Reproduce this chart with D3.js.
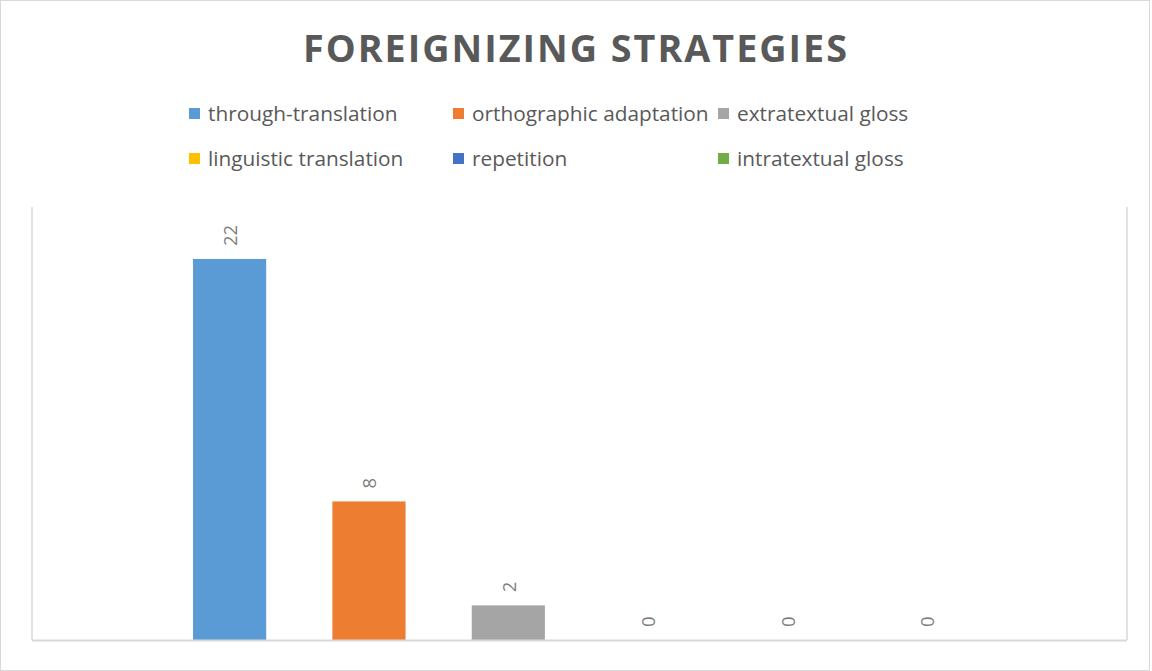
<!DOCTYPE html>
<html><head><meta charset="utf-8">
<script src="https://cdn.jsdelivr.net/npm/d3@7"></script>
<style>body{margin:0;background:#fff}svg{display:block}</style>
</head><body>
<svg id="c" width="1152" height="671"></svg>
<script>
const title = "FOREIGNIZING STRATEGIES";
const series = ["through-translation","orthographic adaptation","extratextual gloss","linguistic translation","repetition","intratextual gloss"];
const values = [22, 8, 2, 0, 0, 0];
const colors = ["#5b9bd5","#ed7d31","#a5a5a5","#ffc000","#4472c4","#70ad47"];
const yMax = 25;

const svg = d3.select("#c");
const W = 1152, H = 671;
const font = "'Open Sans', 'Noto Sans', sans-serif";
const txt = "#595959";

svg.append("rect").attr("x",0.5).attr("y",0.5).attr("width",W-3).attr("height",H-1)
  .attr("fill","#fff").attr("stroke","#d9d9d9");

svg.append("text").attr("x",576).attr("y",62).attr("text-anchor","middle")
  .attr("font-family",font).attr("font-weight",700).attr("font-size",38)
  .attr("fill",txt).attr("letter-spacing",2).attr("textLength",546).attr("lengthAdjust","spacingAndGlyphs")
  .text(title);

// legend
const legX = [189, 453, 718], legY = [114, 159];
const leg = svg.append("g");
series.forEach((s,i)=>{
  const g = leg.append("g").attr("transform",`translate(${legX[i%3]},${legY[Math.floor(i/3)]})`);
  g.append("rect").attr("x",0).attr("y",-6).attr("width",11).attr("height",11).attr("fill",colors[i]);
  g.append("text").attr("x",19).attr("y",0).attr("dy","0.35em").attr("font-family",font)
    .attr("font-size",20.8).attr("fill",txt).text(s);
});

const plot = {l:32, r:1127, t:207, b:640};
const x = d3.scaleBand().domain(series).range([plot.l+128, plot.r-131]).paddingInner(0.475).paddingOuter(0.237);
const y = d3.scaleLinear().domain([0,yMax]).range([plot.b, plot.t]);

const gp = svg.append("g");
gp.selectAll("rect.bar").data(series).join("rect").attr("class","bar")
  .attr("x",d=>x(d)).attr("width",x.bandwidth())
  .attr("y",(d,i)=>y(values[i])).attr("height",(d,i)=>y(0)-y(values[i]))
  .attr("fill",(d,i)=>colors[i]);

gp.selectAll("text.lbl").data(series).join("text").attr("class","lbl")
  .attr("transform",(d,i)=>`translate(${x(d)+x.bandwidth()/2+1},${y(values[i])-13}) rotate(-90)`)
  .attr("text-anchor","start").attr("dy","0.35em")
  .attr("font-family",font).attr("font-size",18.5).attr("fill","#7f7f7f")
  .text((d,i)=>values[i]);

// plot borders
svg.append("line").attr("x1",plot.l).attr("x2",plot.l).attr("y1",plot.t).attr("y2",plot.b).attr("stroke","#d9d9d9").attr("stroke-width",1.5);
svg.append("line").attr("x1",plot.r).attr("x2",plot.r).attr("y1",plot.t).attr("y2",plot.b).attr("stroke","#d9d9d9").attr("stroke-width",1.5);
svg.append("line").attr("x1",plot.l).attr("x2",plot.r).attr("y1",plot.b+0.5).attr("y2",plot.b+0.5).attr("stroke","#d9d9d9").attr("stroke-width",2);
</script>
</body></html>
